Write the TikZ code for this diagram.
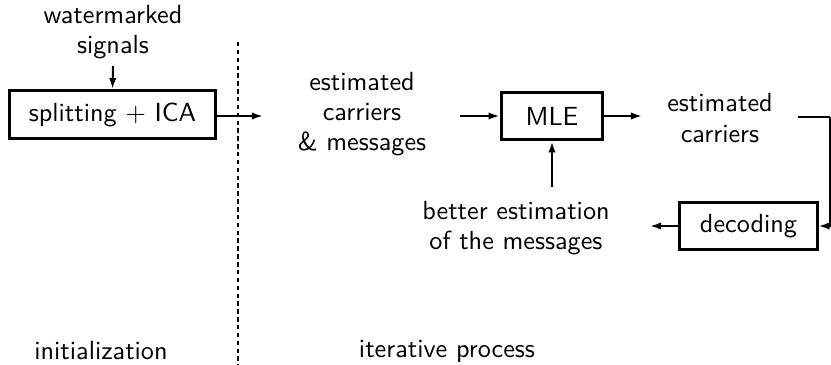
\documentclass[tikz,border=0pt]{standalone}
\usetikzlibrary{arrows.meta}
\begin{document}
\begin{tikzpicture}[x=0.3817pt,y=-0.3817pt,
  txt/.style={font=\sffamily,align=center,inner sep=0pt,
    execute at begin node={\setlength{\baselineskip}{11.6pt}}},
  blk/.style={draw,line width=1.15pt,font=\sffamily,inner sep=0pt},
  flow/.style={line width=0.75pt,-{Latex[length=4.2pt,width=2.8pt]}},
  wire/.style={line width=0.75pt}]
\useasboundingbox (0,0) rectangle (831,365);

% initialization stage
\node[txt] (wm) at (113,32) {watermarked\\signals};
\node[blk,minimum width=79pt,minimum height=18.3pt] (ica) at (112.5,114.5) {splitting $+$ ICA};
\coordinate (wmend) at (113,66);
\draw[flow] (wmend) -- (ica.north);

% separator between the two stages
\coordinate (sepTop) at (238,42);
\coordinate (sepBot) at (238,365);
\draw[line width=0.75pt,dash pattern=on 1.7pt off 1.3pt] (sepTop) -- (sepBot);

% iterative stage
\node[txt] (est1) at (362,114) {estimated\\carriers\\\& messages};
\coordinate (icaout) at (263,116);
\draw[flow] (ica.east |- icaout) -- (icaout);

\node[blk,minimum width=38.9pt,minimum height=18.3pt] (mle) at (552,116) {MLE};
\coordinate (est1out) at (460,116);
\draw[flow] (est1out) -- (mle.west);

\node[txt] (est2) at (720,118) {estimated\\carriers};
\coordinate (mleout) at (642,116);
\draw[flow] (mle.east) -- (mleout);

\node[blk,minimum width=52.3pt,minimum height=18.3pt] (dec) at (748.5,226) {decoding};
\coordinate (est2out) at (798,117);
\coordinate (corner) at (830,117);
\draw[wire] (est2out) -- (corner);
\draw[flow] (corner) |- (dec.east);

\node[txt] (better) at (516,228) {better estimation\\of the messages};
\coordinate (decout) at (650,226);
\draw[flow] (dec.west) -- (decout);
\coordinate (betterin) at (552,187);
\draw[flow] (betterin) -- (mle.south);

% stage labels
\node[txt] (init) at (101,351) {initialization};
\node[txt] (iter) at (447,351) {iterative process};
\end{tikzpicture}
\end{document}
